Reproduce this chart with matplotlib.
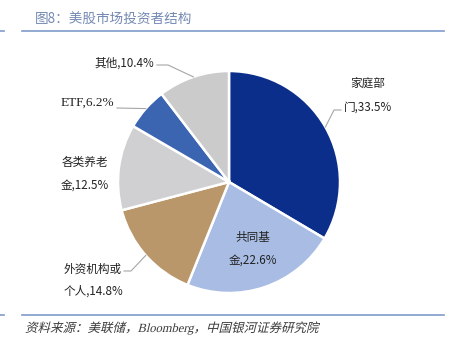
import numpy as np
import matplotlib.pyplot as plt
from matplotlib.textpath import TextPath
from matplotlib.patches import PathPatch
from matplotlib.font_manager import FontProperties
from matplotlib.transforms import Affine2D

plt.rcParams['font.family'] = ['Noto Sans CJK SC', 'DejaVu Sans']

# 数据
labels = ['家庭部\n门,33.5%', '共同基\n金,22.6%', '外资机构或\n个人,14.8%',
          '各类养老\n金,12.5%', 'ETF,6.2%', '其他,10.4%']
values = [33.5, 22.6, 14.8, 12.5, 6.2, 10.4]
colors = ['#0B2E8B', '#A8BCE4', '#B9976A', '#D0CFD2', '#3C65B1', '#CBCBCB']

W, H = 454, 351
fig = plt.figure(figsize=(W / 100, H / 100), dpi=100)
ax = fig.add_axes([0, 0, 1, 1])

def py(y):
    return H - y

cx, cy, r = 229, py(182), 111
ax.pie(values, colors=colors, startangle=90, counterclock=False,
       center=(cx, cy), radius=r, frame=True,
       wedgeprops=dict(edgecolor='white', linewidth=1.8))
ax.set_xlim(0, W)
ax.set_ylim(0, H)
ax.set_aspect('equal')
ax.axis('off')

# 标签位置 (像素坐标) 与引导线
label_pos = [(368, 96), (253, 249), (93, 280), (85, 174), (87, 103), (124, 63)]
elbow = [(334, 110), None, (131, 271), None, (117, 108), (168, 65)]
tail = [(341, 110), None, (124, 271), None, (117, 108), (157, 65)]

cum = np.cumsum([0] + values[:-1])
for i, (lab, v) in enumerate(zip(labels, values)):
    mid = np.deg2rad(90 - (cum[i] + v / 2) / 100 * 360)
    x, y = label_pos[i]
    if i == 4:
        fam, fs = ['Liberation Serif', 'Noto Sans CJK SC'], 9.5
    else:
        fam, fs = ['Noto Sans CJK SC', 'DejaVu Sans'], 8.4
    ax.text(x, py(y), lab, ha='center', va='center', fontsize=fs,
            linespacing=1.95, color='#222222', family=fam)
    if elbow[i] is not None:
        ex, ey = cx + r * np.cos(mid), cy + r * np.sin(mid)
        bx, by = elbow[i]
        tx, ty = tail[i]
        ax.plot([ex, bx, tx], [ey, py(by), py(ty)], color='#A6A6A6', lw=0.8)

# 标题和来源
line_c = '#7F9BCB'
for yy in (31, 315):
    ax.plot([22, 444], [py(yy), py(yy)], color=line_c, lw=1.2)
    ax.plot([0, 4], [py(yy), py(yy)], color=line_c, lw=1.2)
ax.text(35, py(20), '图8：美股市场投资者结构', fontsize=9.8, color='#7489B3',
        ha='left', va='center')

# 斜体来源 (CJK 字体无斜体, 用倾斜路径)
src = '资料来源：美联储，Bloomberg，中国银河证券研究院'
tp = TextPath((0, 0), src, size=12.5,
              prop=FontProperties(family=['Liberation Serif', 'Noto Sans CJK SC']))
tr = Affine2D().skew_deg(14, 0).translate(25, py(332))
ax.add_patch(PathPatch(tr.transform_path(tp), color='#3A3A3A', lw=0))

fig.savefig('out.png', dpi=100)
